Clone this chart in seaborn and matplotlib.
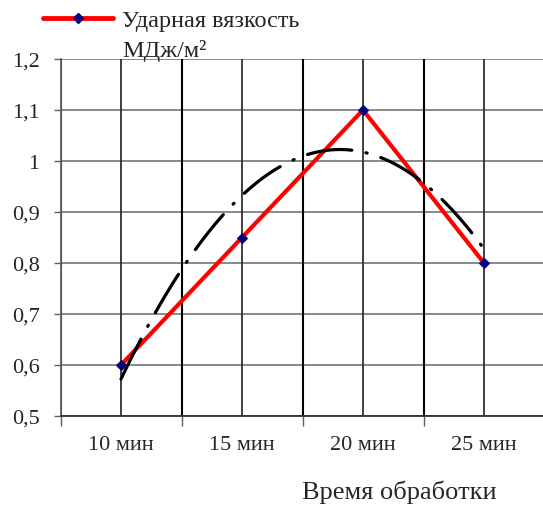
import numpy as np
import pandas as pd
import matplotlib
matplotlib.use("Agg")
import matplotlib.pyplot as plt
import seaborn as sns
from matplotlib.lines import Line2D

categories = ["10 мин", "15 мин", "20 мин", "25 мин"]
values = [0.6, 0.85, 1.1, 0.8]
y_ticks = [0.5, 0.6, 0.7, 0.8, 0.9, 1.0, 1.1, 1.2]
y_labels = ["0,5", "0,6", "0,7", "0,8", "0,9", "1", "1,1", "1,2"]
series_label = "Ударная вязкость"
series_unit = "МДж/м²"
x_title = "Время обработки"

sns.set_style("white")
plt.rcParams["font.family"] = ["Liberation Serif", "DejaVu Serif"]

df = pd.DataFrame({"pos": np.arange(len(categories)), "val": values})

fig = plt.figure(figsize=(5.43, 5.06), dpi=100)
ax = fig.add_axes([60.5 / 543, 89 / 506, 484 / 543, 357 / 506])

sns.lineplot(data=df, x="pos", y="val", ax=ax, color="#ff0000", lw=3,
             marker="D", markersize=5, markerfacecolor="#000080",
             markeredgecolor="#000080", zorder=3)
sns.regplot(data=df, x="pos", y="val", ax=ax, order=2, ci=None, scatter=False,
            truncate=True,
            line_kws=dict(color="black", lw=2.3, linestyle=(0, (14, 4.5, 0.4, 4.5)),
                          dash_capstyle="round", solid_capstyle="round", zorder=4))

ax.set_xlim(-0.5, len(categories) - 0.5)
ax.set_ylim(0.5, 1.2)
ax.set_yticks(y_ticks)
ax.set_yticklabels(y_labels, fontsize=16)
ax.set_xticks(np.arange(len(categories)))
ax.set_xticklabels(categories, fontsize=16)
ax.set_xlabel("")
ax.set_ylabel("")

# gridlines
for y in y_ticks:
    ax.axhline(y, color="#808080", lw=1.3, zorder=1)
for i in range(len(categories)):
    ax.axvline(i, color="#303030", lw=1.3, zorder=1)
for b in np.arange(-0.5, len(categories), 1.0):
    ax.axvline(b, color="black", lw=1.5, zorder=1)

for s in ["top", "right"]:
    ax.spines[s].set_visible(False)
ax.spines["left"].set_color("#606060")
ax.spines["left"].set_linewidth(1.3)
ax.spines["bottom"].set_color("#303030")
ax.spines["bottom"].set_linewidth(1.3)

ax.tick_params(axis="y", length=5, width=1, color="#606060", pad=10, left=True)
ax.tick_params(axis="x", length=0, pad=14)
# boundary ticks on x axis
ax.set_xticks(np.arange(-0.5, len(categories), 1.0), minor=True)
ax.tick_params(axis="x", which="minor", length=7, width=1, color="#606060", bottom=True)

fig.text(399 / 543, 1 - 492 / 506, x_title, fontsize=19, ha="center", va="center")

handle = Line2D([], [], color="#ff0000", lw=3.5, marker="D", markersize=5,
                markerfacecolor="#000080", markeredgecolor="#000080")
fig.legend([handle], [series_label], loc="center left",
           bbox_to_anchor=(43 / 543, 1 - 21 / 506), frameon=False, fontsize=17.5,
           handlelength=2.88, handletextpad=0.37, borderpad=0, borderaxespad=0)
fig.text(122 / 543, 1 - 57 / 506, series_unit, fontsize=17.5, ha="left", va="baseline")

fig.savefig("out.png", dpi=100)
